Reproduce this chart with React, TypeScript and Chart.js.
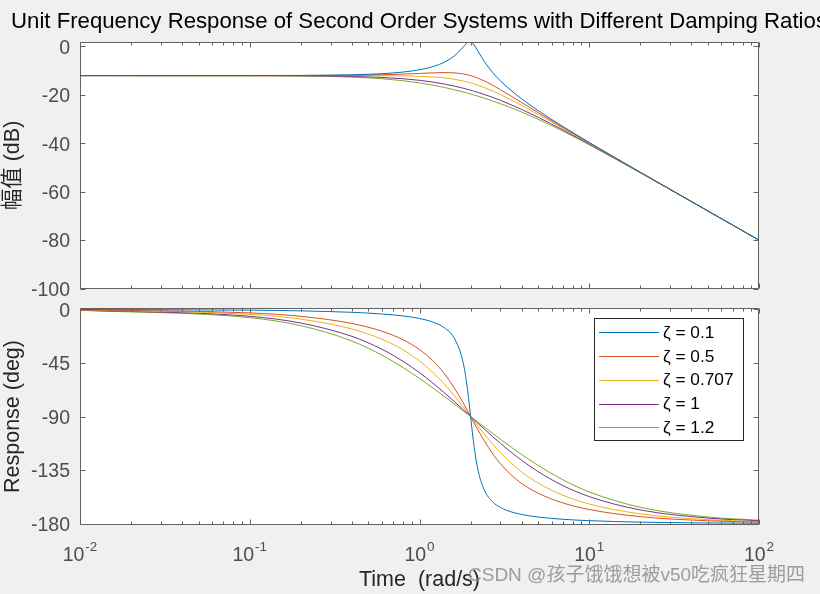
import React, { useEffect, useRef } from "react";
import { Chart, registerables } from "chart.js";

Chart.register(...registerables);

// ---------- data ----------
const FREQ = [0.01, 0.1, 0.2, 0.4, 0.6, 0.8, 1, 1.2, 1.4, 1.6, 1.8, 1.9, 1.95, 2, 2.05, 2.1, 2.2, 2.4, 2.7, 3, 3.5, 4, 5, 7, 10, 20, 50, 100];

const SERIES_LABELS = ["ζ = 0.1", "ζ = 0.5", "ζ = 0.707", "ζ = 1", "ζ = 1.2"];
const SERIES_COLORS = ["#0072BD", "#D95319", "#EDB120", "#7E2F8E", "#77AC30"];

const MAG_Z01 = [-12.041, -12.02, -11.956, -11.694, -11.241, -10.566, -9.619, -8.315, -6.508, -3.95, -0.398, 1.369, 1.888, 1.938, 1.467, 0.586, -1.703, -6.041, -10.788, -14.223, -18.452, -21.66, -26.484, -33.081, -39.653, -51.956, -67.945, -79.997];
const MAG_Z05 = [-12.041, -12.03, -11.998, -11.871, -11.67, -11.414, -11.139, -10.904, -10.792, -10.904, -11.315, -11.641, -11.832, -12.041, -12.266, -12.506, -13.025, -14.173, -16.019, -17.853, -20.684, -23.181, -27.332, -33.465, -39.83, -51.998, -67.952, -79.998];
const MAG_Z0707 = [-12.041, -12.041, -12.042, -12.048, -12.076, -12.151, -12.304, -12.57, -12.975, -13.531, -14.231, -14.627, -14.836, -15.05, -15.27, -15.495, -15.957, -16.916, -18.396, -19.867, -22.202, -24.345, -28.068, -33.833, -40.007, -52.042, -67.959, -80.0];
const MAG_Z1 = [-12.041, -12.063, -12.128, -12.382, -12.79, -13.33, -13.979, -14.712, -15.505, -16.338, -17.195, -17.628, -17.845, -18.062, -18.279, -18.496, -18.929, -19.789, -21.054, -22.279, -24.217, -26.021, -29.248, -34.486, -40.341, -52.128, -67.973, -80.003];
const MAG_Z12 = [-12.041, -12.082, -12.202, -12.656, -13.333, -14.156, -15.057, -15.991, -16.93, -17.857, -18.764, -19.208, -19.427, -19.645, -19.862, -20.076, -20.501, -21.329, -22.523, -23.662, -25.444, -27.098, -30.073, -34.989, -40.615, -52.202, -67.985, -80.007];

const PHASE_Z01 = [-0.057, -0.574, -1.157, -2.386, -3.772, -5.44, -7.595, -10.62, -15.35, -23.962, -43.452, -62.835, -75.791, -90, -103.871, -116.017, -133.668, -151.39, -161.827, -166.504, -170.369, -172.405, -174.56, -176.439, -177.614, -178.843, -179.541, -179.771];
const PHASE_Z05 = [-0.286, -2.87, -5.768, -11.768, -18.246, -25.463, -33.69, -43.152, -53.924, -65.772, -78.079, -84.14, -87.101, -90, -92.828, -95.576, -100.808, -110.136, -121.356, -129.806, -139.686, -146.31, -154.537, -162.719, -168.232, -174.232, -177.706, -178.854];
const PHASE_Z0707 = [-0.405, -4.054, -8.128, -16.414, -24.993, -33.954, -43.309, -52.971, -62.74, -72.346, -81.509, -85.849, -87.949, -90, -92.001, -93.949, -97.689, -104.537, -113.31, -120.513, -129.812, -136.691, -146.046, -156.255, -163.586, -171.872, -176.758, -178.379];
const PHASE_Z1 = [-0.573, -5.725, -11.421, -22.62, -33.399, -43.603, -53.13, -61.928, -69.984, -77.32, -83.974, -87.063, -88.55, -90, -91.415, -92.794, -95.453, -100.389, -106.943, -112.62, -120.51, -126.87, -136.397, -148.11, -157.38, -168.579, -175.419, -177.708];
const PHASE_Z12 = [-0.688, -6.86, -13.627, -26.565, -38.351, -48.814, -57.995, -66.038, -73.113, -79.38, -84.973, -87.552, -88.791, -90, -91.179, -92.329, -94.548, -98.686, -104.244, -109.148, -116.155, -122.005, -131.186, -143.253, -153.435, -166.373, -174.508, -177.251];

const MAG_SERIES = [MAG_Z01, MAG_Z05, MAG_Z0707, MAG_Z1, MAG_Z12];
const PHASE_SERIES = [PHASE_Z01, PHASE_Z05, PHASE_Z0707, PHASE_Z1, PHASE_Z12];

const MAG_TICKS = [0, -20, -40, -60, -80, -100];
const PHASE_TICKS = [0, -45, -90, -135, -180];
const X_DECADES = [0.01, 0.1, 1, 10, 100];
const X_EXPONENTS = ["-2", "-1", "0", "1", "2"];

const TITLE = "Unit Frequency Response of Second Order Systems with Different Damping Ratios";
const MAG_YLABEL = "幅值 (dB)";
const PHASE_YLABEL = "Response (deg)";
const XLABEL = "Time  (rad/s)";
const WATERMARK = "CSDN @孩子饿饿想被v50吃疯狂星期四";

// ---------- style ----------
const FONT = '"Liberation Sans", Arial, Helvetica, "Noto Sans CJK SC", sans-serif';
const TICK_COLOR = "#4d4d4d";
const LABEL_COLOR = "#262626";
const AXIS_COLOR = "#626262";

const makeDatasets = (series: number[][]) =>
  series.map((vals, i) => ({
    label: SERIES_LABELS[i],
    data: FREQ.map((f, j) => ({ x: f, y: vals[j] })),
    borderColor: SERIES_COLORS[i],
    backgroundColor: SERIES_COLORS[i],
    borderWidth: 1,
    pointRadius: 0,
    cubicInterpolationMode: "monotone" as const,
    fill: false,
  }));

const plotBg = {
  id: "plotBg",
  beforeDraw(chart: any) {
    const { ctx, chartArea: a } = chart;
    ctx.save();
    ctx.fillStyle = "#ffffff";
    ctx.fillRect(a.left, a.top, a.right - a.left, a.bottom - a.top);
    ctx.restore();
  },
};

const frame = {
  id: "frame",
  afterDraw(chart: any) {
    const { ctx, chartArea: a, scales } = chart;
    const xs = scales.x;
    const ys = scales.y;
    const L = Math.round(a.left) + 0.5;
    const R = Math.round(a.right) - 0.5;
    const T = Math.round(a.top) + 0.5;
    const B = Math.round(a.bottom) - 0.5;
    ctx.save();
    ctx.strokeStyle = AXIS_COLOR;
    ctx.lineWidth = 1;
    ctx.beginPath();
    ctx.rect(L, T, R - L, B - T);
    X_DECADES.forEach((d) => {
      for (let k = 1; k <= 9; k++) {
        const v = d * k;
        if (v > xs.max * 1.0001) break;
        const px = Math.round(xs.getPixelForValue(v)) + 0.5;
        const len = k === 1 ? 5 : 3;
        ctx.moveTo(px, B);
        ctx.lineTo(px, B - len);
        ctx.moveTo(px, T);
        ctx.lineTo(px, T + len);
      }
    });
    ys.ticks.forEach((t: any) => {
      const py = Math.round(ys.getPixelForValue(t.value)) + 0.5;
      ctx.moveTo(L, py);
      ctx.lineTo(L + 5, py);
      ctx.moveTo(R, py);
      ctx.lineTo(R - 5, py);
    });
    ctx.stroke();
    ctx.restore();
  },
};

const powerLabels = {
  id: "powerLabels",
  afterDraw(chart: any) {
    const { ctx, chartArea: a, scales } = chart;
    const xs = scales.x;
    ctx.save();
    ctx.fillStyle = TICK_COLOR;
    ctx.textBaseline = "alphabetic";
    ctx.textAlign = "left";
    X_DECADES.forEach((d, i) => {
      const px = xs.getPixelForValue(d);
      ctx.font = `19.5px ${FONT}`;
      const wb = ctx.measureText("10").width;
      ctx.font = `13.5px ${FONT}`;
      const we = ctx.measureText(X_EXPONENTS[i]).width;
      const start = px - (wb + 1 + we) / 2;
      ctx.font = `19.5px ${FONT}`;
      ctx.fillText("10", start, a.bottom + 36);
      ctx.font = `13.5px ${FONT}`;
      ctx.fillText(X_EXPONENTS[i], start + wb + 1, a.bottom + 25.5);
    });
    ctx.restore();
  },
};

const boxLegend = {
  id: "boxLegend",
  afterDraw(chart: any) {
    const { ctx, chartArea: a } = chart;
    const ds = chart.data.datasets;
    const w = 150;
    const rowH = 23.85;
    const h = 123;
    const right = Math.round(a.right) - 15;
    const top = Math.round(a.top) + 10;
    const left = right - w;
    ctx.save();
    ctx.fillStyle = "#ffffff";
    ctx.fillRect(left, top, w, h);
    ctx.strokeStyle = "#262626";
    ctx.lineWidth = 1;
    ctx.strokeRect(left + 0.5, top + 0.5, w - 1, h - 1);
    ctx.font = `17.3px ${FONT}`;
    ctx.textBaseline = "middle";
    ctx.textAlign = "left";
    ds.forEach((d: any, i: number) => {
      const y = top + 14 + i * rowH;
      ctx.strokeStyle = d.borderColor;
      ctx.beginPath();
      ctx.moveTo(left + 5, Math.round(y) + 0.5);
      ctx.lineTo(left + 65, Math.round(y) + 0.5);
      ctx.stroke();
      ctx.fillStyle = "#000000";
      ctx.fillText(d.label, left + 69, y + 1);
    });
    ctx.restore();
  },
};

function buildOptions(isMag: boolean): any {
  return {
    responsive: false,
    animation: false,
    devicePixelRatio: 1,
    layout: {
      autoPadding: false,
      padding: { top: isMag ? 42 : 18, right: 61, left: 0, bottom: 0 },
    },
    plugins: {
      legend: { display: false },
      title: { display: false },
      tooltip: { enabled: false },
    },
    scales: {
      x: {
        type: "logarithmic",
        min: 0.01,
        max: 100,
        grid: { display: false, drawTicks: false },
        border: { display: false },
        ticks: { display: false },
        afterBuildTicks: (s: any) => {
          s.ticks = X_DECADES.map((v) => ({ value: v }));
        },
        afterFit: (s: any) => {
          s.height = isMag ? 11 : 69;
          s.paddingLeft = 0;
          s.paddingRight = 0;
          s.paddingTop = 0;
          s.paddingBottom = 0;
        },
        title: isMag
          ? { display: false }
          : {
              display: true,
              text: XLABEL,
              color: LABEL_COLOR,
              font: { family: FONT, size: 21.5 },
              padding: { top: 0, bottom: 1 },
            },
      },
      y: {
        type: "linear",
        min: isMag ? -100.2 : -181.25,
        max: isMag ? 1.85 : 1.25,
        grid: { display: false, drawTicks: false },
        border: { display: false },
        ticks: {
          padding: 10,
          labelOffset: 2,
          color: TICK_COLOR,
          font: { family: FONT, size: 19.5 },
          callback: (v: any) => String(v),
        },
        afterBuildTicks: (s: any) => {
          s.ticks = (isMag ? MAG_TICKS : PHASE_TICKS).map((v) => ({ value: v }));
        },
        afterFit: (s: any) => {
          s.width = 80;
          s.paddingTop = 0;
          s.paddingBottom = 0;
          s.paddingLeft = 0;
          s.paddingRight = 0;
        },
        title: {
          display: true,
          text: isMag ? MAG_YLABEL : PHASE_YLABEL,
          color: LABEL_COLOR,
          font: { family: FONT, size: 21.5 },
          padding: { top: 0, bottom: 0 },
        },
      },
    },
  };
}

export default function App() {
  const topRef = useRef<HTMLCanvasElement>(null);
  const botRef = useRef<HTMLCanvasElement>(null);

  useEffect(() => {
    const magChart = new Chart(topRef.current as HTMLCanvasElement, {
      type: "line",
      data: { datasets: makeDatasets(MAG_SERIES) as any },
      options: buildOptions(true),
      plugins: [plotBg, frame],
    });
    const phaseChart = new Chart(botRef.current as HTMLCanvasElement, {
      type: "line",
      data: { datasets: makeDatasets(PHASE_SERIES) as any },
      options: buildOptions(false),
      plugins: [plotBg, frame, powerLabels, boxLegend],
    });
    return () => {
      magChart.destroy();
      phaseChart.destroy();
    };
  }, []);

  return (
    <div
      style={{
        position: "fixed",
        left: 0,
        top: 0,
        width: 820,
        height: 594,
        background: "#f0f0f0",
        overflow: "hidden",
      }}
    >
      <canvas ref={topRef} width={820} height={300} style={{ position: "absolute", left: 0, top: 0 }} />
      <canvas ref={botRef} width={820} height={304} style={{ position: "absolute", left: 0, top: 290 }} />
      <div
        style={{
          position: "absolute",
          left: 0,
          top: 10,
          width: 838,
          textAlign: "center",
          whiteSpace: "nowrap",
          fontFamily: FONT,
          fontSize: "22.2px",
          lineHeight: "22px",
          color: "#000000",
        }}
      >
        {TITLE}
      </div>
      <div
        style={{
          position: "absolute",
          left: 468,
          top: 565,
          whiteSpace: "nowrap",
          fontFamily: FONT,
          fontSize: "19px",
          lineHeight: "20px",
          color: "rgba(135,135,135,0.8)",
        }}
      >
        {WATERMARK}
      </div>
    </div>
  );
}
